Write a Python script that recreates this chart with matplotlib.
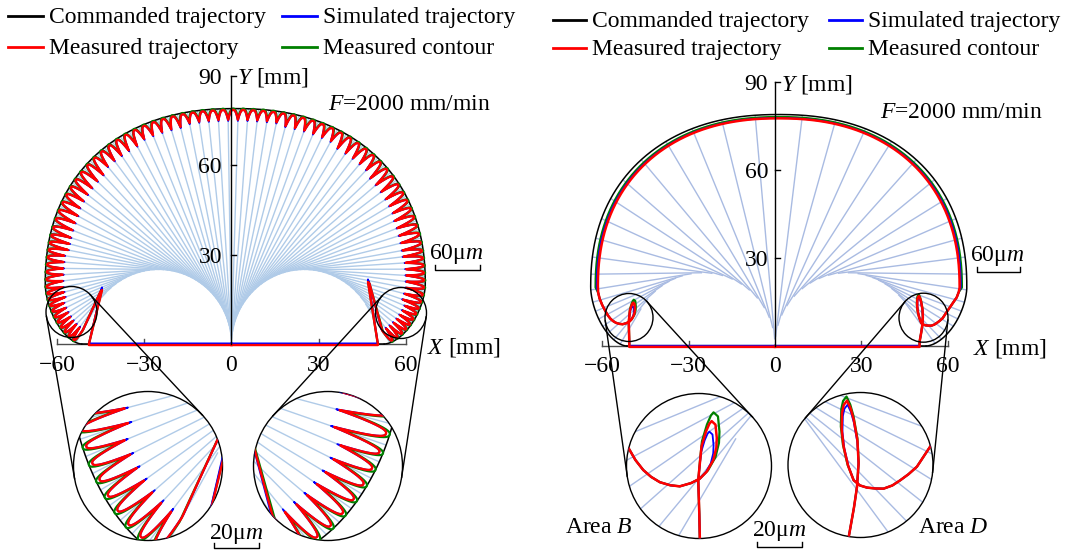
import numpy as np
import matplotlib.pyplot as plt
from matplotlib.patches import Circle, Ellipse
from matplotlib.lines import Line2D
from matplotlib.collections import LineCollection

plt.rcParams['font.family'] = 'Liberation Serif'
plt.rcParams['mathtext.fontset'] = 'custom'
plt.rcParams['mathtext.rm'] = 'Liberation Serif'
plt.rcParams['mathtext.it'] = 'Liberation Serif:italic'

W, H = 1070, 550
FS = 17

# ---------------- values (mm) ----------------
x_ticks = [-60, -30, 0, 30, 60]
x_tick_labels = ['\u221260', '\u221230', '0', '30', '60']
y_ticks = [30, 60, 90]
y_tick_labels = ['30', '60', '90']
legend_labels = ['Commanded trajectory', 'Simulated trajectory',
                 'Measured trajectory', 'Measured contour']

# commanded contour: superellipse dome joined to the X axis by two fillets
dome_cx, dome_yc = 1.3, 20.0
dome_a, dome_top, dome_n = 65.3, 79.0, 2.25
corner_x = [-51.5, 52.5]
fillet_m = 1.7

# circles the tool-axis lines are tangent to
env_cx = [-25.0, 25.0]
env_r = 25.0

# left panel: tool-axis line spacing along the contour (12 zones, corner to corner)
line_spacing_left = [2.1, 2.5, 3.0, 3.3, 3.5, 3.5, 3.5, 3.5, 3.3, 3.0, 2.5, 2.1]
scallop_depth_left = [4.5, 5.5, 6.5, 6.0, 5.0, 4.0, 3.3, 3.3, 4.0, 5.0, 6.0, 6.5, 6.0, 4.5]
spike_left_x = [-49.0, -44.5, -45.0]
spike_left_y = [0.0, 18.1, 17.6]
spike_right_x = [47.4, 46.9, 50.3]
spike_right_y = [20.3, 20.8, 0.0]

# right panel: tool-axis line positions, polar angle about dome centre (left half)
axis_angles_right = [97.7, 108.5, 118.2, 127.1, 136.3, 144.4, 151.0, 157.5, 163.5,
                     169.2, 174.3, 179.0, 182.7, 185.5, 188.0, 190.5, 193.0, 195.5, 197.5]
meas_dome_a, meas_dome_top = 62.8, 77.7
# measured trajectory around the corners (area B left, area D right)
areaB_x = [-50.6, -50.6, -50.66, -50.78, -50.6, -50.4, -49.9, -49.5, -49.24, -48.8,
           -48.65, -48.7, -49.05, -49.8, -50.6, -51.6, -52.9, -54.0, -55.2, -56.2,
           -57.1, -58.0, -58.8, -60.0, -60.9, -61.4]
areaB_y = [0.0, 1.6, 4.3, 8.12, 10.0, 11.95, 13.6, 14.5, 14.8, 14.4,
           12.9, 11.8, 10.4, 9.1, 8.3, 7.8, 7.43, 7.55, 7.9, 8.5,
           9.27, 10.4, 11.76, 14.0, 16.2, 18.2]
areaD_x = [50.2, 50.2, 50.8, 51.15, 51.34, 51.2, 50.76, 50.4, 49.98, 49.6,
           49.4, 49.35, 49.58, 50.1, 50.76, 51.5, 52.33, 53.3, 54.27, 55.3,
           56.23, 57.2, 58.18, 59.75, 61.5, 63.1, 63.8]
areaD_y = [0.0, 1.46, 4.77, 7.12, 9.86, 12.5, 14.93, 16.2, 17.08, 16.6,
           15.7, 13.8, 11.8, 9.6, 7.9, 7.3, 7.05, 6.95, 6.93, 7.3,
           7.9, 8.6, 9.46, 11.8, 14.3, 16.6, 18.4]
loop_B = (4, 14, -50.7, 8.2)     # first/last loop index, crossing point
loop_D = (4, 14, 51.2, 7.6)

C_CMD, C_SIM, C_MEAS, C_CONT = 'k', '#0000ff', '#ff0000', '#008000'
LB_LEFT, LB_RIGHT = '#b0cbe8', '#a9bbe2'

LEFT = dict(ox=231.5, oy=344.0, sx=2.91, sy=2.98, x0=0, x1=535)
RIGHT = dict(ox=775.0, oy=346.0, sx=2.88, sy=2.93, x0=535, x1=1070)


def px2d(p, px, py):
    return (px - p['ox']) / p['sx'], (p['oy'] - py) / p['sy']


# ---------------- geometry ----------------
def superellipse(cx, yc, a, top, n, num=1500):
    t = np.linspace(np.pi, 0, num)
    c, s = np.cos(t), np.sin(t)
    return cx + a * np.sign(c) * np.abs(c) ** (2 / n), yc + (top - yc) * np.abs(s) ** (2 / n)


def fillet(xcorner, xside, num=400):
    phi = np.linspace(0, np.pi / 2, num)
    x = xcorner + (xside - xcorner) * np.clip(np.cos(phi), 0, None) ** (2 / fillet_m)
    y = dome_yc - dome_yc * np.clip(np.sin(phi), 0, None) ** (2 / fillet_m)
    return x, y


def commanded():
    lx, ly = fillet(corner_x[0], dome_cx - dome_a)
    dx, dy = superellipse(dome_cx, dome_yc, dome_a, dome_top, dome_n)
    rx, ry = fillet(corner_x[1], dome_cx + dome_a)
    x = np.concatenate([lx[::-1], dx[1:], rx[1:]])
    y = np.concatenate([ly[::-1], dy[1:], ry[1:]])
    s = np.concatenate([[0], np.cumsum(np.hypot(np.diff(x), np.diff(y)))])
    su = np.linspace(0, s[-1], 7000)
    return np.interp(su, s, x), np.interp(su, s, y), su


def tangent_point(px, py):
    left = px < 0
    c = env_cx[0] if left else env_cx[1]
    d = np.hypot(px - c, py)
    if d <= env_r * 1.001:
        return px, py
    al = np.arctan2(py, px - c)
    be = np.arccos(env_r / d)
    t1 = (c + env_r * np.cos(al + be), env_r * np.sin(al + be))
    t2 = (c + env_r * np.cos(al - be), env_r * np.sin(al - be))
    if left:
        return t1 if t1[0] > t2[0] else t2
    return t1 if t1[0] < t2[0] else t2


cmd_x, cmd_y, cmd_s = commanded()

# left panel tool-axis lines, stepped along the contour with the zone spacing
total = cmd_s[-1]
line_s = [2.0]
while True:
    zone = min(int(line_s[-1] / total * len(line_spacing_left)), len(line_spacing_left) - 1)
    nxt = line_s[-1] + line_spacing_left[zone]
    if nxt > total - 2.0:
        break
    line_s.append(nxt)
line_s = np.array(line_s)
line_s = 2.0 + (line_s - 2.0) * (total - 4.0) / (line_s[-1] - 2.0)
line_idx = np.searchsorted(cmd_s, line_s)
n_lines = len(line_idx)
seg_left, dirs, lens = [], [], []
for i in line_idx:
    tx, ty = tangent_point(cmd_x[i], cmd_y[i])
    v = np.array([tx - cmd_x[i], ty - cmd_y[i]])
    L = np.hypot(*v)
    seg_left.append([(cmd_x[i], cmd_y[i]), (tx, ty)])
    dirs.append(v / L)
    lens.append(L)
dirs = np.array(dirs)
nz = len(scallop_depth_left)
tip_depth = np.array([min(scallop_depth_left[min(int(line_s[k] / total * nz), nz - 1)],
                          0.8 * lens[k]) for k in range(n_lines)])


def scallops(base_off, extra):
    xs, ys = [], []
    for k in range(n_lines - 1):
        i0, i1 = line_idx[k], line_idx[k + 1]
        f = np.linspace(0, 1, i1 - i0 + 1)
        dv = (1 - f)[:, None] * dirs[k] + f[:, None] * dirs[k + 1]
        dv /= np.linalg.norm(dv, axis=1)[:, None]
        dep = (tip_depth[k] * (1 - f) + tip_depth[k + 1] * f) + extra
        off = base_off + dep * (1 - np.sin(np.pi * f)) ** 1.3
        xs.append(cmd_x[i0:i1 + 1] + off * dv[:, 0])
        ys.append(cmd_y[i0:i1 + 1] + off * dv[:, 1])
    return np.concatenate(xs), np.concatenate(ys)


def left_path(base_off, extra, y_axis, spike_up):
    sx_, sy_ = scallops(base_off, extra)
    x = np.concatenate([[0, spike_left_x[0]], spike_left_x, sx_, spike_right_x, [spike_right_x[-1], 0]])
    y = np.concatenate([[y_axis, y_axis], [spike_left_y[0], spike_left_y[1] + spike_up, spike_left_y[2]],
                        sy_, [spike_right_y[0], spike_right_y[1] + spike_up, spike_right_y[2]],
                        [y_axis, y_axis]])
    return x, y


# right panel tool-axis lines
ang = np.degrees(np.arctan2(cmd_y - 18.0, cmd_x - dome_cx)) % 360
seg_right = []
for th in list(axis_angles_right) + [(180 - a) % 360 for a in axis_angles_right]:
    i = np.argmin(np.abs((ang - th + 180) % 360 - 180))
    seg_right.append([(cmd_x[i], cmd_y[i]), tangent_point(cmd_x[i], cmd_y[i])])


def scaled_loop(xs, ys, loop, k):
    i0, i1, px, py = loop
    x, y = np.array(xs, float), np.array(ys, float)
    x[i0:i1] = px + k * (x[i0:i1] - px)
    y[i0:i1] = py + k * (y[i0:i1] - py)
    return x, y


def right_path(da, dt, kB, kD, y_axis):
    bx, by = scaled_loop(areaB_x, areaB_y, loop_B, kB)
    ex, ey = scaled_loop(areaD_x, areaD_y, loop_D, kD)
    mx, my = superellipse(dome_cx, dome_yc, meas_dome_a + da, meas_dome_top + dt, dome_n)
    x = np.concatenate([[0], bx, mx, ex[::-1], [0]])
    y = np.concatenate([[y_axis], by, my, ey[::-1], [y_axis]])
    y[1] = y_axis
    y[-2] = y_axis
    return x, y


red_L = left_path(0.45, 0.0, -0.35, 0.0)
blue_L = left_path(0.45, 0.4, 0.2, 0.9)
green_L = left_path(0.0, -0.1, -0.1, 0.3)
red_R = right_path(0.0, 0.0, 1.0, 1.0, -0.3)
blue_R = right_path(0.4, 0.1, 0.82, 0.95, 0.1)
green_R = right_path(0.8, 0.45, 1.15, 1.05, 0.0)


def draw_content(ax, segs, lb, red, blue, green, lw_red):
    ax.add_collection(LineCollection(segs, colors=lb, linewidths=1.0, zorder=1))
    ax.plot(cmd_x, cmd_y, color=C_CMD, lw=1.1, zorder=2)
    ax.plot(corner_x, [0, 0], color=C_CMD, lw=1.1, zorder=2)
    ax.plot(*green, color=C_CONT, lw=1.6, zorder=3)
    ax.plot(*blue, color=C_SIM, lw=1.3, zorder=4)
    ax.plot(*red, color=C_MEAS, lw=lw_red, zorder=5)


def draw_left(ax):
    draw_content(ax, seg_left, LB_LEFT, red_L, blue_L, green_L, 1.7)


def draw_right(ax):
    draw_content(ax, seg_right, LB_RIGHT, red_R, blue_R, green_R, 1.8)


fig = plt.figure(figsize=(W / 100, H / 100), dpi=100)


def make_main(p):
    ax = fig.add_axes([p['x0'] / W, 0, (p['x1'] - p['x0']) / W, 1])
    xa, yb = px2d(p, p['x0'], 0)
    xb, ya = px2d(p, p['x1'], H)
    ax.set_xlim(xa, xb)
    ax.set_ylim(ya, yb)
    ax.axis('off')
    return ax


def decorate(ax, p, lab_base, ylab_dx, xlab_x, xlab_base, f_pos, scale60, scale20):
    tx, ty = 5 / p['sx'], 5 / p['sy']
    ax.plot([-60, 60], [0, 0], color='0.3', lw=1.0, zorder=1.5)
    for t, lab in zip(x_ticks, x_tick_labels):
        if t != 0:
            ax.plot([t, t], [0, ty], color='0.3', lw=1.0, zorder=1.5)
        ax.text(t, px2d(p, 0, lab_base)[1], lab, fontsize=FS, ha='center', va='baseline')
    ax.plot([0, 0], [0, 90], color='k', lw=1.0, zorder=6)
    for t, lab in zip(y_ticks, y_tick_labels):
        ax.plot([0, tx], [t, t], color='k', lw=1.0, zorder=6)
        ax.text(ylab_dx, t - 8 / p['sy'], lab, fontsize=FS, ha='right', va='baseline')
    ax.text(tx + 0.3, 90 - 8 / p['sy'], '$Y$ [mm]', fontsize=FS, ha='left', va='baseline')
    ax.text(xlab_x, px2d(p, 0, xlab_base)[1], '$X$ [mm]', fontsize=FS, ha='left', va='baseline')
    fx, fy = px2d(p, *f_pos)
    ax.text(fx, fy, '$F$=2000 mm/min', fontsize=FS, ha='left', va='baseline')
    for (cxp, typ, x0p, x1p, barp, lab) in (scale60 + ('60\u03bc$m$',), scale20 + ('20\u03bc$m$',)):
        X0, Yb = px2d(p, x0p, barp)
        X1, _ = px2d(p, x1p, barp)
        ax.plot([X0, X0, X1, X1], [Yb + ty, Yb, Yb, Yb + ty], color='k', lw=1.0)
        cx_, cy_ = px2d(p, cxp, typ)
        ax.text(cx_, cy_, lab, fontsize=FS, ha='center', va='baseline')


def make_inset(p, big, small, draw):
    bx, by, br = big
    sxp, syp, sr = small
    ax = fig.add_axes([(bx - br) / W, 1 - (by + br) / H, 2 * br / W, 2 * br / H])
    cx, cy = px2d(p, sxp, syp)
    ax.set_xlim(cx - sr / p['sx'], cx + sr / p['sx'])
    ax.set_ylim(cy - sr / p['sy'], cy + sr / p['sy'])
    ax.axis('off')
    draw(ax)
    clip = Circle((0.5, 0.5), 0.5, transform=ax.transAxes)
    for art in ax.lines + ax.collections:
        art.set_clip_path(clip)
    ax.add_patch(Circle((0.5, 0.5), 0.5, transform=ax.transAxes, fill=False,
                        ec='k', lw=1.0, clip_on=False))


def small_circle(ax, p, small):
    sxp, syp, sr = small
    cx, cy = px2d(p, sxp, syp)
    ax.add_patch(Ellipse((cx, cy), 2 * sr / p['sx'], 2 * sr / p['sy'], fill=False,
                         ec='k', lw=1.0, zorder=7))


def connectors(small, big):
    x1, y1, r1 = small
    x2, y2, r2 = big
    L = np.hypot(x2 - x1, y2 - y1)
    base = np.arctan2(y2 - y1, x2 - x1)
    g = np.arccos((r1 - r2) / L)
    for sgn in (1, -1):
        a = base + sgn * g
        p1 = (x1 + r1 * np.cos(a), y1 + r1 * np.sin(a))
        p2 = (x2 + r2 * np.cos(a), y2 + r2 * np.sin(a))
        fig.add_artist(Line2D([p1[0] / W, p2[0] / W], [1 - p1[1] / H, 1 - p2[1] / H],
                              transform=fig.transFigure, color='k', lw=1.0))


def legend(cols, rows, hlen):
    colors = [C_CMD, C_SIM, C_MEAS, C_CONT]
    for k, (lab, col) in enumerate(zip(legend_labels, colors)):
        x0, y0 = cols[k % 2], rows[k // 2]
        fig.add_artist(Line2D([x0 / W, (x0 + hlen) / W], [1 - y0 / H, 1 - y0 / H],
                              transform=fig.transFigure, color=col, lw=2.0))
        fig.text((x0 + hlen + 6) / W, 1 - (y0 + 7) / H, lab, fontsize=FS, ha='left', va='baseline')


# ---------------- left panel ----------------
axL = make_main(LEFT)
draw_left(axL)
decorate(axL, LEFT, 371, -3.3, 67.2, 353, (328, 110),
         (456.5, 259, 435, 480, 270), (236.5, 539, 214, 259, 548))
A_small, A_big = (71.5, 312, 25.5), (148, 466, 74.5)
C_small, C_big = (401, 313, 25.5), (328, 466, 74.5)
for s_, b_ in ((A_small, A_big), (C_small, C_big)):
    small_circle(axL, LEFT, s_)
    connectors(s_, b_)
    make_inset(LEFT, b_, s_, draw_left)
legend([8, 282], [16, 47], 35)

# ---------------- right panel ----------------
axR = make_main(RIGHT)
draw_right(axR)
decorate(axR, RIGHT, 372.5, -2.4, 68.8, 355, (880, 118),
         (997.5, 261, 977, 1020, 272), (779.5, 536, 757, 802, 547))
B_small, B_big = (629, 317.5, 24), (699, 466, 72.5)
D_small, D_big = (923.5, 317.7, 24.5), (860.5, 465, 72.5)
for s_, b_ in ((B_small, B_big), (D_small, D_big)):
    small_circle(axR, RIGHT, s_)
    connectors(s_, b_)
    make_inset(RIGHT, b_, s_, draw_right)
xb_, yb_ = px2d(RIGHT, 565, 533)
axR.text(xb_, yb_, 'Area $B$', fontsize=FS, ha='left', va='baseline')
xd_, yd_ = px2d(RIGHT, 918, 533)
axR.text(xd_, yd_, 'Area $D$', fontsize=FS, ha='left', va='baseline')
legend([553, 829], [20, 48], 33)

fig.savefig('out.png', dpi=100)
